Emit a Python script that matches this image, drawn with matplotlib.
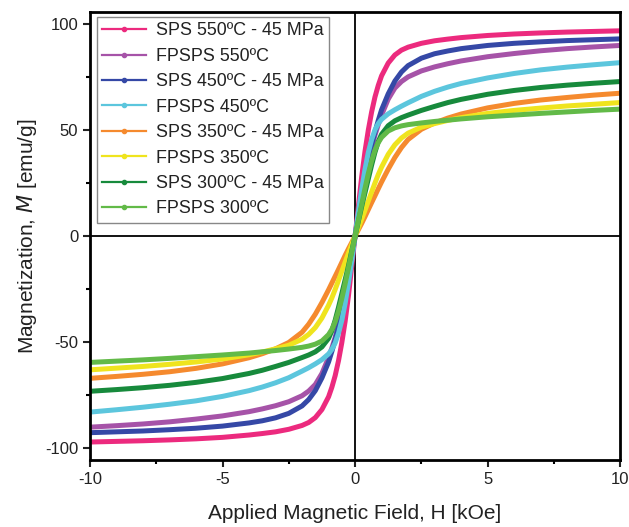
import matplotlib
matplotlib.use("Agg")
import matplotlib.pyplot as plt
from matplotlib.lines import Line2D

plt.rcParams['font.family'] = ['Liberation Sans', 'DejaVu Sans']
plt.rcParams['axes.unicode_minus'] = False

# applied field [kOe]
field_neg = [-10, -9, -8, -7, -6, -5, -4, -3.5, -3, -2.5, -2, -1.75, -1.5, -1.25, -1,
             -0.875, -0.75, -0.625, -0.5, -0.375, -0.25, -0.125]
field_pos = [0, 0.125, 0.25, 0.375, 0.5, 0.625, 0.75, 0.875, 1, 1.25, 1.5, 1.75, 2,
             2.5, 3, 3.5, 4, 5, 6, 7, 8, 9, 10]

# magnetization [emu/g]
sps550_neg = [-97, -96.7, -96.4, -96, -95.5, -94.8, -93.7, -93, -92.2, -91, -89.2, -87.8, -85.5, -81.7, -75.7,
              -71.2, -65.7, -58.7, -50.2, -40.2, -28.2, -14.1]
sps550_pos = [0, 14, 28, 40, 50, 58.5, 65.5, 71, 75.5, 81.5, 85.3, 87.6, 89,
              90.8, 92, 92.8, 93.5, 94.5, 95.2, 95.7, 96.1, 96.4, 96.7]
fpsps550_neg = [-90, -89.3, -88.5, -87.5, -86.2, -84.7, -82.7, -81.4, -79.9, -78, -75.2, -73, -69.9, -64.7, -57.2,
                -52.7, -47.7, -41.7, -35.2, -27.7, -19.6, -10]
fpsps550_pos = [0, 10, 19.5, 27.5, 35, 41.5, 47.5, 52.5, 57, 64.5, 69.7, 72.8, 75,
                77.8, 79.7, 81.2, 82.5, 84.5, 86, 87.3, 88.3, 89.1, 89.8]
sps450_neg = [-92.6, -92.2, -91.8, -91.2, -90.5, -89.5, -88, -87, -85.6, -83.5, -80, -77, -72.8, -66.8, -59.3,
              -54.3, -48.8, -42.8, -35.8, -27.8, -19.4, -9.9]
sps450_pos = [0, 10, 19.5, 28, 36, 43, 49, 54.5, 59.5, 67, 73, 77.3, 80.3,
              83.8, 85.9, 87.2, 88.3, 89.8, 90.8, 91.5, 92.1, 92.5, 92.9]
fpsps450_neg = [-82.9, -81.8, -80.6, -79.2, -77.6, -75.5, -72.8, -71.1, -69.1, -66.7, -63.6, -62, -60.2, -58.2, -55.5,
                -53.4, -50.3, -45.7, -39.7, -31.7, -22.1, -11.6]
fpsps450_pos = [0, 11.5, 22, 31.5, 39.5, 45.5, 50, 53, 55, 57.6, 59.5, 61.2, 62.8,
                65.8, 68.2, 70.2, 71.9, 74.5, 76.6, 78.3, 79.6, 80.7, 81.7]
sps350_neg = [-67, -66.1, -65.1, -63.9, -62.3, -60.2, -57.3, -55.4, -53.1, -50.1, -45.3, -41.5, -36.8, -31.3, -25.3,
              -22.1, -18.9, -15.7, -12.4, -9.1, -6, -3]
sps350_pos = [0, 3, 6, 9.2, 12.5, 15.8, 19, 22.3, 25.5, 31.5, 37, 41.7, 45.5,
              50.3, 53.3, 55.6, 57.5, 60.4, 62.5, 64.1, 65.3, 66.4, 67.3]
fpsps350_neg = [-63, -62.2, -61.4, -60.4, -59.3, -57.9, -55.9, -54.6, -53.1, -51.4, -48.6, -46.3, -43.1, -38.6, -32.6,
                -29.1, -25.1, -20.9, -16.6, -12.3, -8.1, -4]
fpsps350_pos = [0, 4, 8, 12.2, 16.5, 20.8, 25, 29, 32.5, 38.5, 43, 46.2, 48.5,
                51.3, 53, 54.5, 55.8, 57.8, 59.2, 60.3, 61.3, 62.1, 62.9]
sps300_neg = [-73.1, -72.3, -71.4, -70.3, -68.9, -67.1, -64.7, -63.2, -61.4, -59.5, -57.2, -56, -54.5, -52.2, -48.2,
              -44.6, -39.6, -33.6, -27.1, -20.6, -14.1, -7]
sps300_pos = [0, 7, 14, 20.5, 27, 33.5, 39.5, 44.5, 48, 52, 54.3, 55.8, 57,
              59.2, 61.1, 62.9, 64.4, 66.8, 68.6, 70, 71.1, 72, 72.8]
fpsps300_neg = [-59.5, -58.9, -58.3, -57.6, -56.8, -56, -55.1, -54.5, -53.9, -53.2, -52.4, -51.8, -50.9, -49.4, -46.4,
                -43.9, -40.4, -35.4, -29.4, -22.4, -15, -7.5]
fpsps300_pos = [0, 7.5, 15, 22.5, 29.5, 35.5, 40.5, 44, 46.5, 49.5, 51, 51.9, 52.5,
                53.3, 54, 54.6, 55.2, 56.2, 57, 57.8, 58.5, 59.2, 59.8]

labels = ["SPS 550ºC - 45 MPa", "FPSPS 550ºC", "SPS 450ºC - 45 MPa", "FPSPS 450ºC",
          "SPS 350ºC - 45 MPa", "FPSPS 350ºC", "SPS 300ºC - 45 MPa", "FPSPS 300ºC"]
series = [sps550_neg + sps550_pos, fpsps550_neg + fpsps550_pos,
          sps450_neg + sps450_pos, fpsps450_neg + fpsps450_pos,
          sps350_neg + sps350_pos, fpsps350_neg + fpsps350_pos,
          sps300_neg + sps300_pos, fpsps300_neg + fpsps300_pos]
colors = ["#EC2A7E", "#A653A8", "#3548A6", "#5CC6DD", "#F58A2E", "#EFE41E", "#178A3C", "#62BA48"]
field = field_neg + field_pos

fig = plt.figure(figsize=(6.29, 5.27), dpi=100)
ax = fig.add_axes([0.143, 0.127, 0.843, 0.85])

ax.axhline(0, color="black", lw=1.3, zorder=1)
ax.axvline(0, color="black", lw=1.3, zorder=1)

for m, c in zip(series, colors):
    ax.plot(field, m, color=c, lw=3.6, solid_capstyle="butt", solid_joinstyle="round", zorder=2)

ax.set_xlim(-10, 10)
ax.set_ylim(-105.5, 105.5)
ax.set_xticks([-10, -5, 0, 5, 10])
ax.set_xticks([-7.5, -2.5, 2.5, 7.5], minor=True)
ax.set_yticks([-100, -50, 0, 50, 100])
ax.set_yticks([-75, -25, 25, 75], minor=True)
ax.tick_params(which="major", direction="out", length=5, width=1.5, labelsize=12, colors="#222222")
ax.tick_params(which="minor", direction="out", length=3, width=1.5)
for s in ax.spines.values():
    s.set_linewidth(2)

ax.set_xlabel("Applied Magnetic Field, H [kOe]", fontsize=15, color="#222222", labelpad=12)
ax.set_ylabel("Magnetization, $\\mathit{M}$ [emu/g]", fontsize=15, color="#222222", labelpad=4)

handles = [Line2D([], [], color=c, lw=1.6, marker="o", ms=3) for c in colors]
leg = ax.legend(handles, labels, loc="upper left", bbox_to_anchor=(0.013, 0.989), borderaxespad=0,
                fontsize=12.9, handlelength=2.45, handletextpad=0.55, labelspacing=0.47,
                fancybox=False, framealpha=1, edgecolor="#888888", borderpad=0.3)
leg.get_frame().set_linewidth(1.0)
for t in leg.get_texts():
    t.set_color("#222222")

fig.savefig("out.png", dpi=100)
